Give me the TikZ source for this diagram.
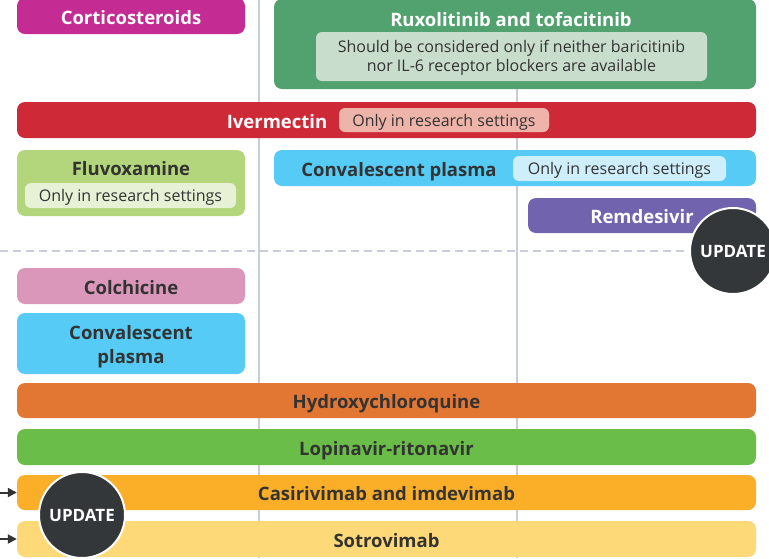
\documentclass[tikz,border=0pt]{standalone}
\usepackage{fontspec}
\setmainfont{Open Sans}
\usetikzlibrary{arrows.meta}

\definecolor{cortico}{HTML}{C42B93}
\definecolor{ruxo}{HTML}{52A26F}
\definecolor{ruxoin}{HTML}{C9DDCD}
\definecolor{iver}{HTML}{CE2936}
\definecolor{iverpill}{HTML}{EEB4AA}
\definecolor{fluvo}{HTML}{B3D57B}
\definecolor{fluvopill}{HTML}{E6F1D6}
\definecolor{conv}{HTML}{55CBF5}
\definecolor{convpill}{HTML}{CFEEFB}
\definecolor{remd}{HTML}{7163AE}
\definecolor{colch}{HTML}{DA97BA}
\definecolor{hydro}{HTML}{E27733}
\definecolor{lopi}{HTML}{6ABD48}
\definecolor{casi}{HTML}{FBAF29}
\definecolor{sotro}{HTML}{FDD978}
\definecolor{updt}{HTML}{333739}
\definecolor{gridc}{HTML}{C9CDD9}
\definecolor{txt}{HTML}{333333}

\tikzset{
  drug/.style={rectangle, rounded corners=8pt, inner sep=0pt, align=center,
    font=\fontsize{18.5}{24}\selectfont\bfseries},
  oneline/.style={text height=16.5pt, text depth=0pt},
  pill/.style={rectangle, rounded corners=6pt, inner sep=0pt, align=center,
    text=txt, font=\fontsize{16}{19}\selectfont},
  pilltext/.style={text height=12pt, text depth=0pt},
  label/.style={inner sep=0pt, font=\fontsize{18.5}{24}\selectfont\bfseries, oneline},
  update/.style={circle, fill=updt, draw=white, line width=2pt, minimum size=86pt,
    inner sep=0pt, text=white, font=\fontsize{17}{18}\selectfont\bfseries,
    text height=12.2pt, text depth=0pt},
}

\begin{document}
\begin{tikzpicture}[x=1pt,y=-1pt]
\useasboundingbox (0,0) rectangle (769,558);

% grid
\foreach \x in {259, 517}
{
\draw[gridc, line width=1.2pt] (\x,0) -- (\x,558);
}
\draw[gridc, line width=1.2pt, dash pattern=on 8pt off 5pt] (0,251) -- (769,251);

% upper part
\node[drug, oneline, fill=cortico, text=white, minimum width=228pt, minimum height=36pt] (cortico) at (131,16) {Corticosteroids};

\node[drug, fill=ruxo, minimum width=482pt, minimum height=90pt] (ruxo) at (515,44) {};
\node[label, text=white] (ruxotitle) at (511,18) {Ruxolitinib and tofacitinib};
\node[pill, fill=ruxoin, minimum width=391pt, minimum height=49pt] (ruxonote) at (511.5,56.5) {};
\node[inner sep=0pt, align=center, text=txt, font=\fontsize{16}{19}\selectfont] (ruxotext) at (511.5,57.5)
  {Should be considered only if neither baricitinib\\nor IL-6 receptor blockers are available};

\node[drug, fill=iver, minimum width=739pt, minimum height=36pt] (iver) at (386.5,120) {};
\node[label, text=white] (ivertitle) at (277,120) {Ivermectin};
\node[pill, pilltext, fill=iverpill, minimum width=210pt, minimum height=24pt] (iverpill) at (444,120) {Only in research settings};

\node[drug, fill=fluvo, minimum width=228pt, minimum height=66pt] (fluvo) at (131,183) {};
\node[label, text=txt] (fluvotitle) at (131,167) {Fluvoxamine};
\node[pill, pilltext, fill=fluvopill, minimum width=211pt, minimum height=25pt] (fluvopill) at (130.5,195.5) {Only in research settings};

\node[drug, fill=conv, minimum width=482pt, minimum height=36pt] (conv) at (515,168) {};
\node[label, text=txt] (convtitle) at (399,168) {Convalescent plasma};
\node[pill, pilltext, fill=convpill, minimum width=213pt, minimum height=25pt] (convpill) at (619.5,168.5) {Only in research settings};

\node[drug, oneline, fill=remd, text=white, minimum width=228pt, minimum height=35pt] (remd) at (642,215.5) {Remdesivir};
\node[update] (upd1) at (733,251) {UPDATE};

% lower part
\node[drug, oneline, fill=colch, text=txt, minimum width=228pt, minimum height=36pt] (colch) at (131,286) {Colchicine};
\node[drug, fill=conv, minimum width=228pt, minimum height=61pt] (conv2) at (131,343.5) {};
\node[label, text=txt] (conv2a) at (131,331) {Convalescent};
\node[label, text=txt] (conv2b) at (131,355) {plasma};

\node[drug, oneline, fill=hydro, text=txt, minimum width=739pt, minimum height=35pt] (hydro) at (386.5,400.5) {Hydroxychloroquine};
\node[drug, oneline, fill=lopi, text=txt, minimum width=739pt, minimum height=36pt] (lopi) at (386.5,447) {Lopinavir-ritonavir};
\node[drug, oneline, fill=casi, text=txt, minimum width=739pt, minimum height=35pt] (casi) at (386.5,492.5) {Casirivimab and imdevimab};
\node[drug, oneline, fill=sotro, text=txt, minimum width=739pt, minimum height=36pt] (sotro) at (386.5,539) {Sotrovimab};

\coordinate (incasi) at (0,492.5);
\coordinate (insotro) at (0,539);
\draw[txt, line width=2pt, -{Triangle[length=9pt,width=9pt]}] (incasi) -- (casi.west);
\draw[txt, line width=2pt, -{Triangle[length=9pt,width=9pt]}] (insotro) -- (sotro.west);

\node[update] (upd2) at (82,515) {UPDATE};

\end{tikzpicture}
\end{document}
